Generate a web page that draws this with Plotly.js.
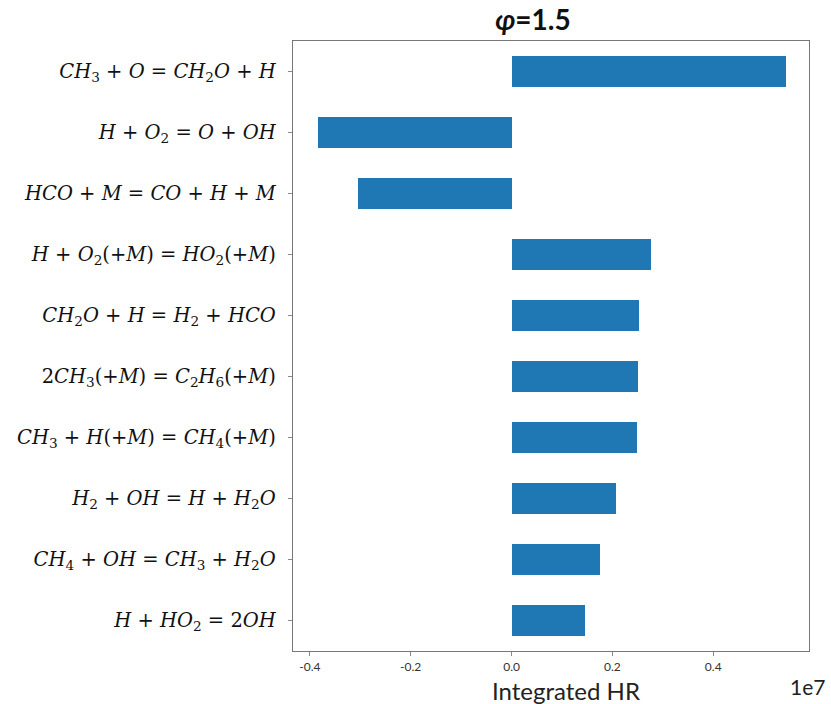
<!DOCTYPE html>
<html>
<head>
<meta charset="utf-8">
<script src="https://cdn.plot.ly/plotly-3.0.1.min.js"></script>
<style>html,body{margin:0;padding:0;background:#fff;}#chart{width:831px;height:704px;}</style>
</head>
<body>
<div id="chart"></div>
<script>
// Reaction labels (top to bottom)
const reactions = [
  "<i>CH</i><sub>3</sub> + <i>O</i> = <i>CH</i><sub>2</sub><i>O</i> + <i>H</i>",
  "<i>H</i> + <i>O</i><sub>2</sub> = <i>O</i> + <i>OH</i>",
  "<i>HCO</i> + <i>M</i> = <i>CO</i> + <i>H</i> + <i>M</i>",
  "<i>H</i> + <i>O</i><sub>2</sub>(+<i>M</i>) = <i>HO</i><sub>2</sub>(+<i>M</i>)",
  "<i>CH</i><sub>2</sub><i>O</i> + <i>H</i> = <i>H</i><sub>2</sub> + <i>HCO</i>",
  "2<i>CH</i><sub>3</sub>(+<i>M</i>) = <i>C</i><sub>2</sub><i>H</i><sub>6</sub>(+<i>M</i>)",
  "<i>CH</i><sub>3</sub> + <i>H</i>(+<i>M</i>) = <i>CH</i><sub>4</sub>(+<i>M</i>)",
  "<i>H</i><sub>2</sub> + <i>OH</i> = <i>H</i> + <i>H</i><sub>2</sub><i>O</i>",
  "<i>CH</i><sub>4</sub> + <i>OH</i> = <i>CH</i><sub>3</sub> + <i>H</i><sub>2</sub><i>O</i>",
  "<i>H</i> + <i>HO</i><sub>2</sub> = 2<i>OH</i>"
];
// Integrated heat release (units of 1e7)
const integratedHR = [0.545, -0.383, -0.304, 0.276, 0.253, 0.250, 0.249, 0.208, 0.175, 0.145];
const xTickVals = [-0.4, -0.2, 0.0, 0.2, 0.4];
const xTickText = ["-0.4", "-0.2", "0.0", "0.2", "0.4"];
const positions = reactions.map((_, i) => i);

const trace = {
  type: 'bar',
  orientation: 'h',
  x: integratedHR,
  y: positions,
  width: 0.5,
  marker: {color: '#1f77b4', line: {width: 0}},
  hoverinfo: 'x'
};

const layout = {
  width: 831, height: 704,
  margin: {l: 293, r: 22, t: 41, b: 53},
  paper_bgcolor: '#fff', plot_bgcolor: '#fff',
  showlegend: false,
  bargap: 0,
  title: {
    text: '<b><i>φ</i>=1.5</b>',
    font: {family: 'Lato, "Open Sans", sans-serif', size: 28, color: '#111'},
    x: 0.465, xanchor: 'center', xref: 'paper',
    y: 0.972, yanchor: 'middle', yref: 'container'
  },
  xaxis: {
    range: [-0.4335, 0.590],
    tickvals: xTickVals, ticktext: xTickText,
    ticks: 'outside', ticklen: 4, tickcolor: '#888', tickwidth: 1,
    tickfont: {family: 'Lato, "Open Sans", sans-serif', size: 12, color: '#333'},
    showgrid: false, zeroline: false,
    showline: true, mirror: true, linecolor: '#777', linewidth: 1.3
  },
  yaxis: {
    range: [9.5, -0.5],
    tickvals: positions, ticktext: reactions,
    ticks: 'outside', ticklen: 4, tickcolor: '#888', tickwidth: 1,
    ticklabelstandoff: 8,
    tickfont: {family: '"DejaVu Serif", "Liberation Serif", serif', size: 19.5, color: '#111'},
    showgrid: false, zeroline: false,
    showline: true, mirror: true, linecolor: '#777', linewidth: 1.3
  },
  annotations: [
    {text: 'Integrated HR', xref: 'paper', yref: 'paper', x: 0.530, y: -0.064,
     xanchor: 'center', yanchor: 'middle', showarrow: false,
     font: {family: 'Lato, "Open Sans", sans-serif', size: 24, color: '#222'}},
    {text: '1e7', xref: 'paper', yref: 'paper', x: 1.035, y: -0.058,
     xanchor: 'right', yanchor: 'middle', showarrow: false,
     font: {family: 'Lato, "Open Sans", sans-serif', size: 21, color: '#222'}}
  ]
};

Plotly.newPlot('chart', [trace], layout, {displayModeBar: false, staticPlot: true});
</script>
</body>
</html>
